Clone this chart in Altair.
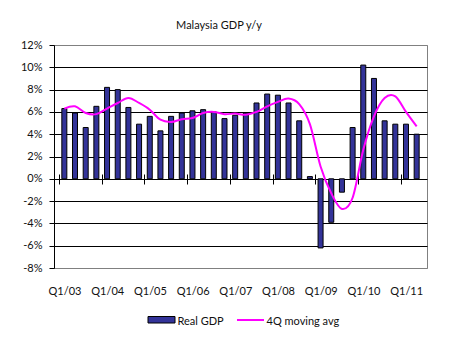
import altair as alt
import pandas as pd

quarters = [f"Q{q}/{y:02d}" for y in range(3, 12) for q in range(1, 5)][:34]
real_gdp = [6.3, 5.9, 4.6, 6.5, 8.2, 8.0, 6.4, 4.9, 5.6, 4.3, 5.6, 5.9, 6.1, 6.2, 6.0, 5.4,
            5.7, 5.9, 6.8, 7.6, 7.5, 6.8, 5.2, 0.2, -6.2, -3.9, -1.2, 4.6, 10.2, 9.0, 5.2,
            4.9, 4.9, 4.0]
moving_avg = [6.3, 6.5, 5.9, 5.8, 6.3, 6.8, 7.25, 6.8, 6.2, 5.3, 5.1, 5.35, 5.45, 5.9, 6.0,
              5.8, 5.85, 5.75, 6.0, 6.5, 6.9, 7.2, 6.7, 4.9, 1.1, -1.3, -2.7, -1.7, 2.6,
              5.6, 7.25, 7.4, 6.0, 4.7]
tick_labels = ["Q1/03", "Q1/04", "Q1/05", "Q1/06", "Q1/07", "Q1/08", "Q1/09", "Q1/10", "Q1/11"]
y_ticks = [-8, -6, -4, -2, 0, 2, 4, 6, 8, 10, 12]
title_text = "Malaysia GDP y/y"
series_names = ["Real GDP", "4Q moving avg"]

df = pd.DataFrame({
    "idx": list(range(len(quarters))),
    "quarter": quarters,
    "gdp": real_gdp,
    "avg": moving_avg,
})

FONT = "Lato"
TXT = "#111111"
label_js = "[" + ",".join(f"'{t}'" for t in tick_labels) + "]"

x_enc = alt.X(
    "idx:Q",
    scale=alt.Scale(domain=[-0.5, len(quarters) - 0.5], nice=False, zero=False),
    axis=alt.Axis(
        values=[-0.5 + 4 * k for k in range(len(tick_labels))],
        title=None, domain=False, grid=False,
        ticks=True, tickSize=10, tickColor="black", tickWidth=1,
        offset=-94, labelPadding=101, labelOffset=5.5,
        labelExpr=f"{label_js}[round((datum.value + 0.5) / 4)]",
        labelFlush=False, labelOverlap=False,
        labelFont=FONT, labelFontSize=11, labelColor=TXT,
    ),
)

y_axis = alt.Axis(
    values=y_ticks, title=None,
    labelExpr="datum.value + '%'",
    grid=True,
    gridColor={"condition": {"test": "datum.value == 12 || datum.value == -8", "value": "#808080"},
               "value": "#000000"},
    gridWidth=1,
    domainColor="black", tickColor="black", tickSize=5, labelPadding=7,
    labelFont=FONT, labelFontSize=11, labelColor=TXT,
)

y_scale = alt.Scale(domain=[-8, 12], nice=False, zero=False)

bars = alt.Chart(df).mark_bar(size=5, fill="#333399", stroke="black", strokeWidth=1).encode(
    x=x_enc,
    y=alt.Y("gdp:Q", scale=y_scale, axis=y_axis),
)

line = alt.Chart(df).mark_line(color="#FF00FF", strokeWidth=2, interpolate="cardinal").encode(
    x=x_enc,
    y=alt.Y("avg:Q", scale=y_scale, axis=y_axis),
)

one = pd.DataFrame({"t": [title_text]})
title = alt.Chart(one).mark_text(font=FONT, fontSize=11, color=TXT, align="center",
                                 baseline="alphabetic").encode(
    x=alt.value(165), y=alt.value(-16.5), text="t:N")

leg_df1 = pd.DataFrame({"t": [series_names[0]]})
leg_df2 = pd.DataFrame({"t": [series_names[1]]})
sw1 = alt.Chart(leg_df1).mark_rect(fill="#333399", stroke="black", strokeWidth=1).encode(
    x=alt.value(94), x2=alt.value(121), y=alt.value(271.5), y2=alt.value(278))
tx1 = alt.Chart(leg_df1).mark_text(font=FONT, fontSize=11, color=TXT, align="left",
                                   baseline="alphabetic").encode(
    x=alt.value(123.5), y=alt.value(279.5), text="t:N")
sw2 = alt.Chart(leg_df2).mark_rule(color="#FF00FF", strokeWidth=2).encode(
    x=alt.value(183), x2=alt.value(210), y=alt.value(275))
tx2 = alt.Chart(leg_df2).mark_text(font=FONT, fontSize=11, color=TXT, align="left",
                                   baseline="alphabetic").encode(
    x=alt.value(212.5), y=alt.value(279.5), text="t:N")

chart = alt.layer(bars, line, title, sw1, tx1, sw2, tx2).properties(
    width=373, height=223,
    autosize=alt.AutoSizeParams(type="none"),
    padding={"left": 54, "top": 45, "right": 22, "bottom": 73},
    background="white",
).configure_view(stroke="#808080", strokeWidth=1)

chart.save("out.html", embed_options={"renderer": "svg", "actions": False})
